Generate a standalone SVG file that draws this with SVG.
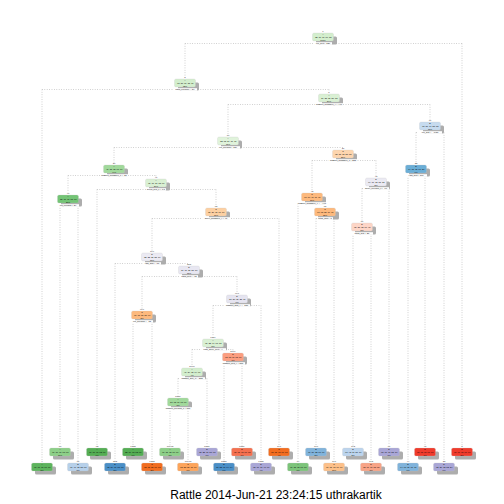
<svg xmlns="http://www.w3.org/2000/svg" width="504" height="504" viewBox="0 0 504 504">
<style>
.sh{fill:#a4a4a4;opacity:0.9}
.bx{stroke:#c8c8c8;stroke-width:0.25}
text{font-family:"Liberation Sans",Arial,sans-serif;text-anchor:middle;fill:#111}
.num{font-size:2.4px;fill:#444}
.t{font-size:2.1px;fill:#000}
.sp{font-size:2.2px;fill:#000}
.lb{fill:#ffffff}
.cn line{stroke:#b8b8b8;stroke-width:0.8;stroke-dasharray:0.8 1.6}
.cap{font-size:12px;fill:#000}
</style>
<rect width="504" height="504" fill="#ffffff"/>
<g class="cn" id="connectors">
<line x1="185" y1="43.5" x2="462" y2="43.5"/><line x1="185" y1="43.5" x2="185" y2="76.5"/><line x1="462" y1="43.5" x2="462" y2="445.5"/>
<line x1="42" y1="89.5" x2="329" y2="89.5"/><line x1="42" y1="89.5" x2="42" y2="460.5"/><line x1="329" y1="89.5" x2="329" y2="91.5"/>
<line x1="228" y1="104.5" x2="430" y2="104.5"/><line x1="228" y1="104.5" x2="228" y2="134.5"/><line x1="430" y1="104.5" x2="430" y2="119.5"/>
<line x1="416" y1="132.5" x2="444" y2="132.5"/><line x1="416" y1="132.5" x2="416" y2="162.5"/><line x1="444" y1="132.5" x2="444" y2="460.5"/>
<line x1="408" y1="175.5" x2="425" y2="175.5"/><line x1="408" y1="175.5" x2="408" y2="460.5"/><line x1="425" y1="175.5" x2="425" y2="445.5"/>
<line x1="114" y1="147.5" x2="343" y2="147.5"/><line x1="114" y1="147.5" x2="114" y2="162.5"/>
<line x1="68" y1="175.5" x2="156" y2="175.5"/><line x1="68" y1="175.5" x2="68" y2="192.5"/><line x1="156" y1="175.5" x2="156" y2="176.5"/>
<line x1="60" y1="205.5" x2="78" y2="205.5"/><line x1="60" y1="205.5" x2="60" y2="445.5"/><line x1="78" y1="205.5" x2="78" y2="460.5"/>
<line x1="97" y1="189.5" x2="216" y2="189.5"/><line x1="97" y1="189.5" x2="97" y2="445.5"/><line x1="216" y1="189.5" x2="216" y2="205.5"/>
<line x1="152" y1="218.5" x2="279" y2="218.5"/><line x1="152" y1="218.5" x2="152" y2="250.5"/><line x1="279" y1="218.5" x2="279" y2="445.5"/>
<line x1="115" y1="263.5" x2="189" y2="263.5"/><line x1="115" y1="263.5" x2="115" y2="460.5"/>
<line x1="142" y1="276.5" x2="237" y2="276.5"/><line x1="142" y1="276.5" x2="142" y2="308.5"/><line x1="237" y1="276.5" x2="237" y2="292.5"/>
<line x1="133" y1="321.5" x2="152" y2="321.5"/><line x1="133" y1="321.5" x2="133" y2="445.5"/><line x1="152" y1="321.5" x2="152" y2="460.5"/>
<line x1="213" y1="305.5" x2="261" y2="305.5"/><line x1="213" y1="305.5" x2="213" y2="336.5"/><line x1="261" y1="305.5" x2="261" y2="460.5"/>
<line x1="192" y1="349.5" x2="233" y2="349.5"/><line x1="192" y1="349.5" x2="192" y2="365.5"/><line x1="233" y1="349.5" x2="233" y2="350.5"/>
<line x1="178" y1="378.5" x2="207" y2="378.5"/><line x1="178" y1="378.5" x2="178" y2="395.5"/><line x1="207" y1="378.5" x2="207" y2="445.5"/>
<line x1="224" y1="363.5" x2="242" y2="363.5"/><line x1="224" y1="363.5" x2="224" y2="460.5"/><line x1="242" y1="363.5" x2="242" y2="445.5"/>
<line x1="170" y1="408.5" x2="188" y2="408.5"/><line x1="170" y1="408.5" x2="170" y2="445.5"/><line x1="188" y1="408.5" x2="188" y2="460.5"/>
<line x1="312" y1="160.5" x2="376" y2="160.5"/><line x1="312" y1="160.5" x2="312" y2="190.5"/><line x1="376" y1="160.5" x2="376" y2="175.5"/>
<line x1="298" y1="203.5" x2="325" y2="203.5"/><line x1="298" y1="203.5" x2="298" y2="460.5"/><line x1="325" y1="203.5" x2="325" y2="205.5"/>
<line x1="316" y1="218.5" x2="334" y2="218.5"/><line x1="316" y1="218.5" x2="316" y2="445.5"/><line x1="334" y1="218.5" x2="334" y2="460.5"/>
<line x1="362" y1="188.5" x2="389" y2="188.5"/><line x1="362" y1="188.5" x2="362" y2="220.5"/><line x1="389" y1="188.5" x2="389" y2="445.5"/>
<line x1="353" y1="233.5" x2="371" y2="233.5"/><line x1="353" y1="233.5" x2="353" y2="445.5"/><line x1="371" y1="233.5" x2="371" y2="460.5"/>
</g>

<!-- internal nodes -->
<g id="node1" transform="translate(323,37)"><rect class="sh" x="-7" y="-0.5" width="21" height="8" rx="1.5"/><rect class="bx" x="-10.5" y="-4" width="21" height="8" rx="1.5" fill="#d3eecd"/><text class="num" y="-4.8">1</text><text class="t" y="-1.6">A</text><text class="t" y="1.1">.28 .19 .17 .16 .18</text><text class="t" y="3.6">100%</text><rect class="lb" x="-9" y="5.2" width="18" height="2.6"/><text class="sp" y="7.3">roll_belt &lt; 130</text></g>
<g id="node2" transform="translate(185,83)"><rect class="sh" x="-7" y="-0.5" width="21" height="8" rx="1.5"/><rect class="bx" x="-10.5" y="-4" width="21" height="8" rx="1.5" fill="#d3eecd"/><text class="num" y="-4.8">2</text><text class="t" y="-1.6">A</text><text class="t" y="1.1">.31 .21 .19 .18 .11</text><text class="t" y="3.6">92%</text><rect class="lb" x="-12" y="5.2" width="24" height="2.6"/><text class="sp" y="7.3">pitch_forearm &lt; -34</text></g>
<g id="node5" transform="translate(329,98)"><rect class="sh" x="-7" y="-0.5" width="21" height="8" rx="1.5"/><rect class="bx" x="-10.5" y="-4" width="21" height="8" rx="1.5" fill="#d9f0d3"/><text class="num" y="-4.8">5</text><text class="t" y="-1.6">A</text><text class="t" y="1.1">.24 .23 .21 .20 .12</text><text class="t" y="3.6">84%</text><rect class="lb" x="-14" y="5.2" width="28" height="2.6"/><text class="sp" y="7.3">magnet_dumbbell_y &lt; 440</text></g>
<g id="node11" transform="translate(430,126)"><rect class="sh" x="-7" y="-0.5" width="21" height="8" rx="1.5"/><rect class="bx" x="-10.5" y="-4" width="21" height="8" rx="1.5" fill="#c6dbef"/><text class="num" y="-4.8">11</text><text class="t" y="-1.6">B</text><text class="t" y="1.1">.03 .51 .04 .23 .18</text><text class="t" y="3.6">13%</text><rect class="lb" x="-12" y="5.2" width="24" height="2.6"/><text class="sp" y="7.3">roll_belt &gt;= -0.58</text></g>
<g id="node22" transform="translate(416,169)"><rect class="sh" x="-7" y="-0.5" width="21" height="8" rx="1.5"/><rect class="bx" x="-10.5" y="-4" width="21" height="8" rx="1.5" fill="#6baed6"/><text class="num" y="-4.8">22</text><text class="t" y="-1.6">B</text><text class="t" y="1.1">.04 .65 .05 .06 .20</text><text class="t" y="3.6">7%</text><rect class="lb" x="-11" y="5.2" width="22" height="2.6"/><text class="sp" y="7.3">yaw_belt &lt; 170</text></g>
<g id="node10" transform="translate(228,141)"><rect class="sh" x="-7" y="-0.5" width="21" height="8" rx="1.5"/><rect class="bx" x="-10.5" y="-4" width="21" height="8" rx="1.5" fill="#e0f3db"/><text class="num" y="-4.8">10</text><text class="t" y="-1.6">A</text><text class="t" y="1.1">.28 .18 .24 .19 .11</text><text class="t" y="3.6">71%</text><rect class="lb" x="-12" y="5.2" width="24" height="2.6"/><text class="sp" y="7.3">roll_forearm &lt; 124</text></g>
<g id="node20" transform="translate(114,169)"><rect class="sh" x="-7" y="-0.5" width="21" height="8" rx="1.5"/><rect class="bx" x="-10.5" y="-4" width="21" height="8" rx="1.5" fill="#a1d99b"/><text class="num" y="-4.8">20</text><text class="t" y="-1.6">A</text><text class="t" y="1.1">.41 .18 .18 .17 .06</text><text class="t" y="3.6">44%</text><rect class="lb" x="-14" y="5.2" width="28" height="2.6"/><text class="sp" y="7.3">magnet_dumbbell_z &lt; -27</text></g>
<g id="node40" transform="translate(68,199)"><rect class="sh" x="-7" y="-0.5" width="21" height="8" rx="1.5"/><rect class="bx" x="-10.5" y="-4" width="21" height="8" rx="1.5" fill="#74c476"/><text class="num" y="-4.8">40</text><text class="t" y="-1.6">A</text><text class="t" y="1.1">.55 .17 .10 .15 .03</text><text class="t" y="3.6">20%</text><rect class="lb" x="-11" y="5.2" width="22" height="2.6"/><text class="sp" y="7.3">roll_forearm &lt; 34</text></g>
<g id="node41" transform="translate(156,183)"><rect class="sh" x="-7" y="-0.5" width="21" height="8" rx="1.5"/><rect class="bx" x="-10.5" y="-4" width="21" height="8" rx="1.5" fill="#d9f0d3"/><text class="num" y="-4.8">41</text><text class="t" y="-1.6">A</text><text class="t" y="1.1">.30 .19 .24 .18 .09</text><text class="t" y="3.6">24%</text><rect class="lb" x="-10" y="5.2" width="20" height="2.6"/><text class="sp" y="7.3">gyros_belt_z &lt; 0.1</text></g>
<g id="node83" transform="translate(216,212)"><rect class="sh" x="-7" y="-0.5" width="21" height="8" rx="1.5"/><rect class="bx" x="-10.5" y="-4" width="21" height="8" rx="1.5" fill="#fdd0a2"/><text class="num" y="-4.8">83</text><text class="t" y="-1.6">C</text><text class="t" y="1.1">.21 .20 .30 .19 .10</text><text class="t" y="3.6">17%</text><rect class="lb" x="-14" y="5.2" width="28" height="2.6"/><text class="sp" y="7.3">accel_dumbbell_y &lt; 41</text></g>
<g id="node166" transform="translate(152,257)"><rect class="sh" x="-7" y="-0.5" width="21" height="8" rx="1.5"/><rect class="bx" x="-10.5" y="-4" width="21" height="8" rx="1.5" fill="#ebeaf3"/><text class="num" y="-4.8">166</text><text class="t" y="-1.6">D</text><text class="t" y="1.1">.22 .22 .21 .25 .10</text><text class="t" y="3.6">13%</text><rect class="lb" x="-9" y="5.2" width="18" height="2.6"/><text class="sp" y="7.3">yaw_arm &lt; -66</text></g>
<g id="node333" transform="translate(189,270)"><rect class="sh" x="-7" y="-0.5" width="21" height="8" rx="1.5"/><rect class="bx" x="-10.5" y="-4" width="21" height="8" rx="1.5" fill="#e8e7f2"/><text class="num" y="-4.8">333</text><text class="t" y="-1.6">D</text><text class="t" y="1.1">.24 .19 .20 .27 .10</text><text class="t" y="3.6">11%</text><rect class="lb" x="-9" y="5.2" width="18" height="2.6"/><text class="sp" y="7.3">pitch_belt &lt; -43</text></g>
<g id="node666" transform="translate(142,315)"><rect class="sh" x="-7" y="-0.5" width="21" height="8" rx="1.5"/><rect class="bx" x="-10.5" y="-4" width="21" height="8" rx="1.5" fill="#fdb97d"/><text class="num" y="-4.8">666</text><text class="t" y="-1.6">C</text><text class="t" y="1.1">.09 .13 .50 .21 .07</text><text class="t" y="3.6">2%</text><rect class="lb" x="-11" y="5.2" width="22" height="2.6"/><text class="sp" y="7.3">roll_forearm &gt;= 15</text></g>
<g id="node667" transform="translate(237,299)"><rect class="sh" x="-7" y="-0.5" width="21" height="8" rx="1.5"/><rect class="bx" x="-10.5" y="-4" width="21" height="8" rx="1.5" fill="#e5e4f0"/><text class="num" y="-4.8">667</text><text class="t" y="-1.6">D</text><text class="t" y="1.1">.27 .20 .15 .28 .11</text><text class="t" y="3.6">9%</text><rect class="lb" x="-13" y="5.2" width="26" height="2.6"/><text class="sp" y="7.3">magnet_arm_y &gt;= 188</text></g>
<g id="node1334" transform="translate(213,343)"><rect class="sh" x="-7" y="-0.5" width="21" height="8" rx="1.5"/><rect class="bx" x="-10.5" y="-4" width="21" height="8" rx="1.5" fill="#d9f0d3"/><text class="num" y="-4.8">1334</text><text class="t" y="-1.6">A</text><text class="t" y="1.1">.39 .22 .14 .13 .12</text><text class="t" y="3.6">5%</text><rect class="lb" x="-13" y="5.2" width="26" height="2.6"/><text class="sp" y="7.3">total_accel_belt &lt; 4</text></g>
<g id="node2668" transform="translate(192,372)"><rect class="sh" x="-7" y="-0.5" width="21" height="8" rx="1.5"/><rect class="bx" x="-10.5" y="-4" width="21" height="8" rx="1.5" fill="#d3eecd"/><text class="num" y="-4.8">2668</text><text class="t" y="-1.6">A</text><text class="t" y="1.1">.46 .24 .15 .14 .01</text><text class="t" y="3.6">4%</text><rect class="lb" x="-13" y="5.2" width="26" height="2.6"/><text class="sp" y="7.3">magnet_belt_z &lt; -375</text></g>
<g id="node2669" transform="translate(233,357)"><rect class="sh" x="-7" y="-0.5" width="21" height="8" rx="1.5"/><rect class="bx" x="-10.5" y="-4" width="21" height="8" rx="1.5" fill="#fc9d7f"/><text class="num" y="-4.8">2669</text><text class="t" y="-1.6">E</text><text class="t" y="1.1">.05 .15 .11 .08 .61</text><text class="t" y="3.6">1%</text><rect class="lb" x="-12" y="5.2" width="24" height="2.6"/><text class="sp" y="7.3">magnet_belt_y &lt; 580</text></g>
<g id="node5336" transform="translate(178,402)"><rect class="sh" x="-7" y="-0.5" width="21" height="8" rx="1.5"/><rect class="bx" x="-10.5" y="-4" width="21" height="8" rx="1.5" fill="#a1d99b"/><text class="num" y="-4.8">5336</text><text class="t" y="-1.6">A</text><text class="t" y="1.1">.57 .18 .11 .13 .01</text><text class="t" y="3.6">3%</text><rect class="lb" x="-14" y="5.2" width="28" height="2.6"/><text class="sp" y="7.3">magnet_forearm_z &lt; 186</text></g>
<g id="node21" transform="translate(343,154)"><rect class="sh" x="-7" y="-0.5" width="21" height="8" rx="1.5"/><rect class="bx" x="-10.5" y="-4" width="21" height="8" rx="1.5" fill="#fdd5ae"/><text class="num" y="-4.8">21</text><text class="t" y="-1.6">C</text><text class="t" y="1.1">.08 .18 .33 .23 .18</text><text class="t" y="3.6">27%</text><rect class="lb" x="-14" y="5.2" width="28" height="2.6"/><text class="sp" y="7.3">magnet_dumbbell_z &lt; 285</text></g>
<g id="node42" transform="translate(312,197)"><rect class="sh" x="-7" y="-0.5" width="21" height="8" rx="1.5"/><rect class="bx" x="-10.5" y="-4" width="21" height="8" rx="1.5" fill="#fdb97d"/><text class="num" y="-4.8">42</text><text class="t" y="-1.6">C</text><text class="t" y="1.1">.10 .19 .43 .17 .11</text><text class="t" y="3.6">19%</text><rect class="lb" x="-14" y="5.2" width="28" height="2.6"/><text class="sp" y="7.3">magnet_dumbbell_x &gt;= -446</text></g>
<g id="node85" transform="translate(325,212)"><rect class="sh" x="-7" y="-0.5" width="21" height="8" rx="1.5"/><rect class="bx" x="-10.5" y="-4" width="21" height="8" rx="1.5" fill="#fdb97d"/><text class="num" y="-4.8">85</text><text class="t" y="-1.6">C</text><text class="t" y="1.1">.07 .08 .58 .16 .11</text><text class="t" y="3.6">15%</text><rect class="lb" x="-8" y="5.2" width="16" height="2.6"/><text class="sp" y="7.3">pitch_arm &lt; 8</text></g>
<g id="node43" transform="translate(376,182)"><rect class="sh" x="-7" y="-0.5" width="21" height="8" rx="1.5"/><rect class="bx" x="-10.5" y="-4" width="21" height="8" rx="1.5" fill="#ebeaf3"/><text class="num" y="-4.8">43</text><text class="t" y="-1.6">D</text><text class="t" y="1.1">.04 .17 .12 .35 .32</text><text class="t" y="3.6">8%</text><rect class="lb" x="-13" y="5.2" width="26" height="2.6"/><text class="sp" y="7.3">accel_forearm_x &lt; -90</text></g>
<g id="node86" transform="translate(362,227)"><rect class="sh" x="-7" y="-0.5" width="21" height="8" rx="1.5"/><rect class="bx" x="-10.5" y="-4" width="21" height="8" rx="1.5" fill="#fdd5c6"/><text class="num" y="-4.8">86</text><text class="t" y="-1.6">E</text><text class="t" y="1.1">.05 .23 .08 .19 .45</text><text class="t" y="3.6">5%</text><rect class="lb" x="-11" y="5.2" width="22" height="2.6"/><text class="sp" y="7.3">pitch_belt &lt; 21</text></g>

<!-- leaves -->
<g id="leaf4" transform="translate(42,467)"><rect class="sh" x="-7" y="-0.5" width="21" height="8" rx="1.5"/><rect class="bx" x="-10.5" y="-4" width="21" height="8" rx="1.5" fill="#5db45d"/><text class="num" y="-4.8">4</text><text class="t" y="-1.6">A</text><text class="t" y="1.1">.99 .01 .00 .00 .00</text><text class="t" y="3.6">8%</text></g>
<g id="leaf80" transform="translate(60,452)"><rect class="sh" x="-7" y="-0.5" width="21" height="8" rx="1.5"/><rect class="bx" x="-10.5" y="-4" width="21" height="8" rx="1.5" fill="#8dcf88"/><text class="num" y="-4.8">80</text><text class="t" y="-1.6">A</text><text class="t" y="1.1">.61 .16 .07 .13 .03</text><text class="t" y="3.6">17%</text></g>
<g id="leaf81" transform="translate(78,467)"><rect class="sh" x="-7" y="-0.5" width="21" height="8" rx="1.5"/><rect class="bx" x="-10.5" y="-4" width="21" height="8" rx="1.5" fill="#b6d0ea"/><text class="num" y="-4.8">81</text><text class="t" y="-1.6">B</text><text class="t" y="1.1">.16 .40 .18 .23 .03</text><text class="t" y="3.6">3%</text></g>
<g id="leaf82" transform="translate(97,452)"><rect class="sh" x="-7" y="-0.5" width="21" height="8" rx="1.5"/><rect class="bx" x="-10.5" y="-4" width="21" height="8" rx="1.5" fill="#54ad54"/><text class="num" y="-4.8">82</text><text class="t" y="-1.6">A</text><text class="t" y="1.1">.90 .06 .01 .02 .01</text><text class="t" y="3.6">7%</text></g>
<g id="leaf332" transform="translate(115,467)"><rect class="sh" x="-7" y="-0.5" width="21" height="8" rx="1.5"/><rect class="bx" x="-10.5" y="-4" width="21" height="8" rx="1.5" fill="#4a8fc7"/><text class="num" y="-4.8">332</text><text class="t" y="-1.6">B</text><text class="t" y="1.1">.02 .84 .06 .05 .03</text><text class="t" y="3.6">2%</text></g>
<g id="leaf1332" transform="translate(133,452)"><rect class="sh" x="-7" y="-0.5" width="21" height="8" rx="1.5"/><rect class="bx" x="-10.5" y="-4" width="21" height="8" rx="1.5" fill="#54ad54"/><text class="num" y="-4.8">1332</text><text class="t" y="-1.6">A</text><text class="t" y="1.1">.88 .06 .03 .02 .01</text><text class="t" y="3.6">1%</text></g>
<g id="leaf1333" transform="translate(152,467)"><rect class="sh" x="-7" y="-0.5" width="21" height="8" rx="1.5"/><rect class="bx" x="-10.5" y="-4" width="21" height="8" rx="1.5" fill="#f26d1f"/><text class="num" y="-4.8">1333</text><text class="t" y="-1.6">C</text><text class="t" y="1.1">.02 .08 .81 .06 .03</text><text class="t" y="3.6">2%</text></g>
<g id="leaf10672" transform="translate(170,452)"><rect class="sh" x="-7" y="-0.5" width="21" height="8" rx="1.5"/><rect class="bx" x="-10.5" y="-4" width="21" height="8" rx="1.5" fill="#8dcf88"/><text class="num" y="-4.8">10672</text><text class="t" y="-1.6">A</text><text class="t" y="1.1">.66 .15 .08 .10 .01</text><text class="t" y="3.6">3%</text></g>
<g id="leaf10673" transform="translate(188,467)"><rect class="sh" x="-7" y="-0.5" width="21" height="8" rx="1.5"/><rect class="bx" x="-10.5" y="-4" width="21" height="8" rx="1.5" fill="#fda45a"/><text class="num" y="-4.8">10673</text><text class="t" y="-1.6">C</text><text class="t" y="1.1">.08 .25 .55 .11 .01</text><text class="t" y="3.6">0%</text></g>
<g id="leaf5337" transform="translate(207,452)"><rect class="sh" x="-7" y="-0.5" width="21" height="8" rx="1.5"/><rect class="bx" x="-10.5" y="-4" width="21" height="8" rx="1.5" fill="#a9a6d6"/><text class="num" y="-4.8">5337</text><text class="t" y="-1.6">D</text><text class="t" y="1.1">.08 .28 .10 .51 .03</text><text class="t" y="3.6">1%</text></g>
<g id="leaf5338" transform="translate(224,467)"><rect class="sh" x="-7" y="-0.5" width="21" height="8" rx="1.5"/><rect class="bx" x="-10.5" y="-4" width="21" height="8" rx="1.5" fill="#4a8fc7"/><text class="num" y="-4.8">5338</text><text class="t" y="-1.6">B</text><text class="t" y="1.1">.03 .82 .07 .04 .04</text><text class="t" y="3.6">0%</text></g>
<g id="leaf5339" transform="translate(242,452)"><rect class="sh" x="-7" y="-0.5" width="21" height="8" rx="1.5"/><rect class="bx" x="-10.5" y="-4" width="21" height="8" rx="1.5" fill="#f4704f"/><text class="num" y="-4.8">5339</text><text class="t" y="-1.6">E</text><text class="t" y="1.1">.05 .05 .13 .09 .68</text><text class="t" y="3.6">1%</text></g>
<g id="leaf1335" transform="translate(261,467)"><rect class="sh" x="-7" y="-0.5" width="21" height="8" rx="1.5"/><rect class="bx" x="-10.5" y="-4" width="21" height="8" rx="1.5" fill="#a9a6d6"/><text class="num" y="-4.8">1335</text><text class="t" y="-1.6">D</text><text class="t" y="1.1">.08 .17 .17 .49 .09</text><text class="t" y="3.6">4%</text></g>
<g id="leaf167" transform="translate(279,452)"><rect class="sh" x="-7" y="-0.5" width="21" height="8" rx="1.5"/><rect class="bx" x="-10.5" y="-4" width="21" height="8" rx="1.5" fill="#f26d1f"/><text class="num" y="-4.8">167</text><text class="t" y="-1.6">C</text><text class="t" y="1.1">.13 .05 .73 .06 .03</text><text class="t" y="3.6">4%</text></g>
<g id="leaf84" transform="translate(298,467)"><rect class="sh" x="-7" y="-0.5" width="21" height="8" rx="1.5"/><rect class="bx" x="-10.5" y="-4" width="21" height="8" rx="1.5" fill="#7cc47a"/><text class="num" y="-4.8">84</text><text class="t" y="-1.6">A</text><text class="t" y="1.1">.70 .18 .02 .07 .03</text><text class="t" y="3.6">1%</text></g>
<g id="leaf170" transform="translate(316,452)"><rect class="sh" x="-7" y="-0.5" width="21" height="8" rx="1.5"/><rect class="bx" x="-10.5" y="-4" width="21" height="8" rx="1.5" fill="#80b3db"/><text class="num" y="-4.8">170</text><text class="t" y="-1.6">B</text><text class="t" y="1.1">.06 .56 .22 .09 .07</text><text class="t" y="3.6">2%</text></g>
<g id="leaf171" transform="translate(334,467)"><rect class="sh" x="-7" y="-0.5" width="21" height="8" rx="1.5"/><rect class="bx" x="-10.5" y="-4" width="21" height="8" rx="1.5" fill="#fdc089"/><text class="num" y="-4.8">171</text><text class="t" y="-1.6">C</text><text class="t" y="1.1">.07 .05 .63 .16 .09</text><text class="t" y="3.6">13%</text></g>
<g id="leaf172" transform="translate(353,452)"><rect class="sh" x="-7" y="-0.5" width="21" height="8" rx="1.5"/><rect class="bx" x="-10.5" y="-4" width="21" height="8" rx="1.5" fill="#bcd4ed"/><text class="num" y="-4.8">172</text><text class="t" y="-1.6">B</text><text class="t" y="1.1">.09 .42 .11 .21 .17</text><text class="t" y="3.6">2%</text></g>
<g id="leaf173" transform="translate(371,467)"><rect class="sh" x="-7" y="-0.5" width="21" height="8" rx="1.5"/><rect class="bx" x="-10.5" y="-4" width="21" height="8" rx="1.5" fill="#f8a386"/><text class="num" y="-4.8">173</text><text class="t" y="-1.6">E</text><text class="t" y="1.1">.02 .09 .06 .18 .65</text><text class="t" y="3.6">3%</text></g>
<g id="leaf87" transform="translate(389,452)"><rect class="sh" x="-7" y="-0.5" width="21" height="8" rx="1.5"/><rect class="bx" x="-10.5" y="-4" width="21" height="8" rx="1.5" fill="#a9a6d6"/><text class="num" y="-4.8">87</text><text class="t" y="-1.6">D</text><text class="t" y="1.1">.03 .09 .17 .55 .16</text><text class="t" y="3.6">3%</text></g>
<g id="leaf44" transform="translate(408,467)"><rect class="sh" x="-7" y="-0.5" width="21" height="8" rx="1.5"/><rect class="bx" x="-10.5" y="-4" width="21" height="8" rx="1.5" fill="#80b3db"/><text class="num" y="-4.8">44</text><text class="t" y="-1.6">B</text><text class="t" y="1.1">.04 .73 .05 .07 .11</text><text class="t" y="3.6">6%</text></g>
<g id="leaf45" transform="translate(425,452)"><rect class="sh" x="-7" y="-0.5" width="21" height="8" rx="1.5"/><rect class="bx" x="-10.5" y="-4" width="21" height="8" rx="1.5" fill="#ef3b2c"/><text class="num" y="-4.8">45</text><text class="t" y="-1.6">E</text><text class="t" y="1.1">.00 .03 .00 .01 .96</text><text class="t" y="3.6">1%</text></g>
<g id="leaf23" transform="translate(444,467)"><rect class="sh" x="-7" y="-0.5" width="21" height="8" rx="1.5"/><rect class="bx" x="-10.5" y="-4" width="21" height="8" rx="1.5" fill="#a9a6d6"/><text class="num" y="-4.8">23</text><text class="t" y="-1.6">D</text><text class="t" y="1.1">.02 .20 .02 .52 .24</text><text class="t" y="3.6">6%</text></g>
<g id="leaf3" transform="translate(462,452)"><rect class="sh" x="-7" y="-0.5" width="21" height="8" rx="1.5"/><rect class="bx" x="-10.5" y="-4" width="21" height="8" rx="1.5" fill="#ef3b2c"/><text class="num" y="-4.8">3</text><text class="t" y="-1.6">E</text><text class="t" y="1.1">.01 .00 .00 .00 .99</text><text class="t" y="3.6">8%</text></g>

<text class="cap" x="276" y="499">Rattle 2014-Jun-21 23:24:15 uthrakartik</text>
</svg>
